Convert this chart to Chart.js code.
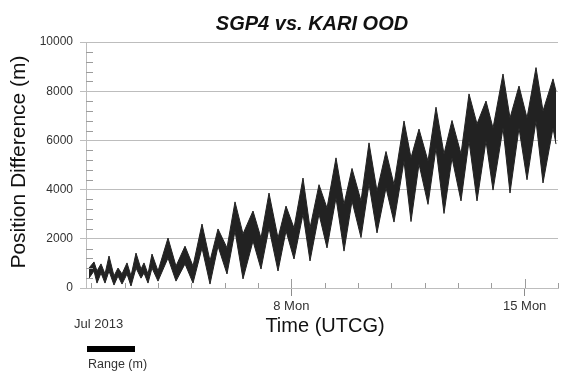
<!DOCTYPE html>
<html>
<head>
<meta charset="utf-8">
<title>SGP4 vs. KARI OOD</title>
<script src="https://cdn.jsdelivr.net/npm/chart.js@4.4.1/dist/chart.umd.min.js"></script>
<style>
  html, body { margin: 0; padding: 0; background: #fff; }
  #wrap { width: 562px; height: 373px; position: relative; }
</style>
</head>
<body>
<div id="wrap"><canvas id="chart"></canvas></div>
<script>
// sample times, in days of July 2013 (UTCG)
const times = [1.93, 2.08, 2.17, 2.29, 2.41, 2.53, 2.68, 2.80, 2.92, 3.07,
  3.19, 3.34, 3.49, 3.58, 3.70, 3.82, 4.00, 4.30, 4.54, 4.81,
  5.05, 5.32, 5.56, 5.80, 6.07, 6.31, 6.55, 6.85, 7.09, 7.33,
  7.60, 7.84, 8.08, 8.35, 8.56, 8.83, 9.07, 9.34, 9.58, 9.82,
  10.09, 10.33, 10.57, 10.84, 11.08, 11.38, 11.59, 11.83, 12.10, 12.34,
  12.58, 12.82, 13.09, 13.33, 13.57, 13.84, 14.05, 14.35, 14.56, 14.83,
  15.07, 15.34, 15.55, 15.85, 15.94];

// top and bottom of the position difference range (m)
const upper = [810, 1060, 690, 980, 570, 1300, 490, 810, 570, 1020,
  490, 1420, 770, 1020, 570, 1380, 690, 2030, 890, 1700,
  890, 2600, 1100, 2400, 1630, 3500, 2200, 3130, 2030, 3860,
  2030, 3330, 2440, 4470, 2440, 4200, 3250, 5290, 3400, 4860,
  3540, 5900, 3940, 5550, 4200, 6790, 5290, 6460, 5160, 7350,
  5450, 6810, 5450, 7890, 6670, 7600, 6500, 8700, 6910, 8210,
  6910, 8960, 7200, 8500, 8000];
const lower = [400, 690, 200, 610, 200, 690, 120, 490, 160, 570,
  80, 810, 400, 610, 200, 810, 280, 1220, 280, 980,
  200, 1630, 160, 1700, 570, 2320, 370, 1910, 770, 2440,
  690, 2320, 1180, 3010, 1100, 3010, 1630, 3660, 1500, 3540,
  2050, 4230, 2240, 4070, 2680, 5160, 2700, 5040, 3400, 5690,
  3030, 5290, 3540, 5980, 3540, 5980, 3980, 6500, 3860, 6500,
  4400, 6790, 4270, 6500, 5850];

const yTicks = [0, 2000, 4000, 6000, 8000, 10000];
const yMinorStep = 400;
const dayTicks = [2, 3, 4, 5, 6, 7, 8, 9, 10, 11, 12, 13, 14, 15, 16];
const majorDays = [8, 15];
const majorLabels = ["8 Mon", "15 Mon"];

const chartTitle = "SGP4 vs. KARI OOD";
const xTitle = "Time (UTCG)";
const yTitle = "Position Difference (m)";
const startLabel = "Jul 2013";
const legendLabel = "Range (m)";

const FONT = '"Liberation Sans", Arial, Helvetica, sans-serif';
const GRID = "#bdbdbd";
const INK = "#222";

function toPoints(values) {
  return times.map((t, i) => ({ x: t, y: values[i] }));
}

// titles, start label, legend and the inner minor ticks
const decor = {
  id: "decor",
  afterDraw(chart) {
    const ctx = chart.ctx;
    const area = chart.chartArea;
    const xs = chart.scales.x;
    const ys = chart.scales.y;
    ctx.save();

    ctx.strokeStyle = "#9c9c9c";
    ctx.lineWidth = 1;
    ctx.beginPath();
    for (let v = yMinorStep; v < 10000; v += yMinorStep) {
      if (v % 2000 === 0) continue;
      const py = Math.round(ys.getPixelForValue(v)) + 0.5;
      ctx.moveTo(area.left, py);
      ctx.lineTo(area.left + 7, py);
    }
    dayTicks.forEach(d => {
      const px = Math.round(xs.getPixelForValue(d)) + 0.5;
      const len = majorDays.includes(d) ? 9 : 5;
      ctx.moveTo(px, area.bottom);
      ctx.lineTo(px, area.bottom - len);
    });
    ctx.stroke();

    ctx.fillStyle = "#111";
    ctx.textAlign = "center";
    ctx.textBaseline = "middle";
    ctx.font = "italic bold 20px " + FONT;
    ctx.fillText(chartTitle, 312, 24);

    ctx.font = "20px " + FONT;
    ctx.fillText(xTitle, 325, 326);

    ctx.save();
    ctx.translate(19, 162);
    ctx.rotate(-Math.PI / 2);
    ctx.font = "21px " + FONT;
    ctx.fillText(yTitle, 0, 0);
    ctx.restore();

    ctx.fillStyle = "#333";
    ctx.textAlign = "left";
    ctx.font = "13px " + FONT;
    ctx.fillText(startLabel, 74, 324);

    // legend
    ctx.fillStyle = "#000";
    ctx.fillRect(87, 346, 48, 6);
    ctx.fillStyle = "#333";
    ctx.font = "12.5px " + FONT;
    ctx.fillText(legendLabel, 88, 365);

    ctx.restore();
  }
};

new Chart(document.getElementById("chart"), {
  type: "line",
  data: {
    datasets: [
      {
        label: legendLabel,
        data: toPoints(upper),
        borderColor: INK,
        backgroundColor: INK,
        borderWidth: 1,
        pointRadius: 0,
        tension: 0,
        fill: "+1"
      },
      {
        label: "lower",
        data: toPoints(lower),
        borderColor: INK,
        borderWidth: 1,
        pointRadius: 0,
        tension: 0,
        fill: false
      }
    ]
  },
  options: {
    responsive: true,
    maintainAspectRatio: false,
    animation: false,
    layout: { padding: { top: 42, right: 4, left: 0, bottom: 0 } },
    plugins: {
      legend: { display: false },
      title: { display: false },
      tooltip: { enabled: false }
    },
    scales: {
      x: {
        type: "linear",
        min: 1.84,
        max: 16,
        afterBuildTicks: s => { s.ticks = dayTicks.map(v => ({ value: v })); },
        afterFit: s => { s.height = 85; },
        grid: {
          drawOnChartArea: false,
          tickLength: 8,
          tickColor: c => (c.tick && majorDays.includes(c.tick.value)) ? "#8c8c8c" : "rgba(0,0,0,0)"
        },
        border: { color: GRID },
        ticks: {
          autoSkip: false,
          maxRotation: 0,
          padding: 3,
          color: "#333",
          font: { family: FONT, size: 13 },
          callback: v => {
            const i = majorDays.indexOf(v);
            return i >= 0 ? majorLabels[i] : "";
          }
        }
      },
      y: {
        min: 0,
        max: 10000,
        afterBuildTicks: s => { s.ticks = yTicks.map(v => ({ value: v })); },
        afterFit: s => { s.width = 86; },
        grid: { color: GRID, tickLength: 6 },
        border: { color: GRID },
        ticks: {
          padding: 7,
          color: "#333",
          font: { family: FONT, size: 12 },
          callback: v => String(v)
        }
      }
    }
  },
  plugins: [decor]
});
</script>
</body>
</html>
